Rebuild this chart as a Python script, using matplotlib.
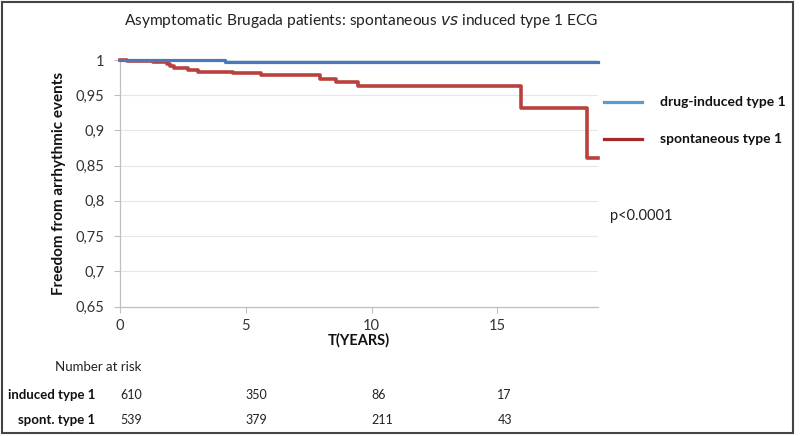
import matplotlib
matplotlib.use("Agg")
import matplotlib.pyplot as plt
from matplotlib.lines import Line2D
from matplotlib.patches import Rectangle
import matplotlib.transforms as mtransforms

plt.rcParams['font.family'] = ['Lato', 'DejaVu Sans']

# ---- data ----
title = "Asymptomatic Brugada patients: spontaneous $\\it{vs}$ induced type 1 ECG"
induced_t = [0, 4.17, 19.0]
induced_s = [1.0, 0.9976, 0.9976]
spont_t = [0, 0.27, 1.32, 1.85, 2.0, 2.15, 2.31, 2.71, 3.1, 4.5, 5.62, 7.94, 8.6, 9.46, 15.94, 18.55, 19.0]
spont_s = [1.0, 0.999, 0.9967, 0.994, 0.991, 0.989, 0.988, 0.9857, 0.983, 0.981, 0.978, 0.973,
           0.9686, 0.963, 0.932, 0.861, 0.861]
risk_times = [0, 5, 10, 15]
risk_induced = [610, 350, 86, 17]
risk_spont = [539, 379, 211, 43]
yticks = [0.65, 0.7, 0.75, 0.8, 0.85, 0.9, 0.95, 1.0]
ytick_labels = ["0,65", "0,7", "0,75", "0,8", "0,85", "0,9", "0,95", "1"]
xticks = [0, 5, 10, 15]
legend_labels = ["drug-induced type 1", "spontaneous type 1"]
p_text = "p<0.0001"

W, H = 800, 436
fig = plt.figure(figsize=(W / 100, H / 100), dpi=100)

def fx(x):
    return x / W

def fy(y):
    return 1 - y / H

left, right, top, bottom = 120, 598, 60, 306.5
ax = fig.add_axes([fx(left), fy(bottom), (right - left) / W, (bottom - top) / H])

blue_line = '#4a78c0'
red_line = '#b9403c'
ax.step(induced_t, induced_s, where='post', color=blue_line, lw=2.3, clip_on=False, zorder=4)
ax.step(spont_t, spont_s, where='post', color=red_line, lw=2.6, clip_on=False, zorder=3)

ax.set_xlim(0, 19)
ax.set_ylim(0.65, 1.0)
ax.set_yticks(yticks)
ax.set_yticklabels(ytick_labels)
ax.set_xticks(xticks)
ax.grid(axis='y', color='#e6e6e6', lw=0.8)
ax.set_axisbelow(True)
for s in ['top', 'right']:
    ax.spines[s].set_visible(False)
for s in ['left', 'bottom']:
    ax.spines[s].set_color('#bfbfbf')
    ax.spines[s].set_linewidth(0.9)
ax.tick_params(axis='both', colors='#bfbfbf', labelcolor='#333333', labelsize=10.5, length=4, width=0.8)
ax.tick_params(axis='y', pad=7)
ax.tick_params(axis='x', pad=5)

ax.set_ylabel("Freedom from arrhythmic events", fontsize=11, fontweight='bold', color='#111111', labelpad=7)
fig.text(fx(359), fy(340), "T(YEARS)", ha='center', va='center', fontsize=10.5, fontweight='bold', color='#111111')

fig.text(fx(361), fy(21), title, ha='center', va='center', fontsize=11.2, color='#222222')

# legend
fig.add_artist(Line2D([fx(604), fx(642)], [fy(102), fy(102)], color='#5b9bd5', lw=2.3))
fig.add_artist(Line2D([fx(604), fx(642)], [fy(139), fy(139)], color='#a52a24', lw=2.3))
fig.text(fx(660), fy(102), legend_labels[0], ha='left', va='center', fontsize=10, fontweight='bold', color='#111111')
fig.text(fx(660), fy(139), legend_labels[1], ha='left', va='center', fontsize=10, fontweight='bold', color='#111111')
fig.text(fx(610), fy(216), p_text, ha='left', va='center', fontsize=10.5, color='#222222')

# number at risk table
fig.text(fx(55), fy(367), "Number at risk", ha='left', va='center', fontsize=9.5, color='#222222')
fig.text(fx(95), fy(395), "induced type 1", ha='right', va='center', fontsize=9.5, fontweight='bold', color='#111111')
fig.text(fx(95), fy(420), "spont. type 1", ha='right', va='center', fontsize=9.5, fontweight='bold', color='#111111')
trans = mtransforms.blended_transform_factory(ax.transData, fig.transFigure)
for t, a, b in zip(risk_times, risk_induced, risk_spont):
    fig.text(t, fy(395), str(a), transform=trans, ha='left', va='center', fontsize=9, color='#222222')
    fig.text(t, fy(420), str(b), transform=trans, ha='left', va='center', fontsize=9, color='#222222')

# outer frame
fig.add_artist(Rectangle((fx(2), fy(433)), (793 - 2) / W, (433 - 2) / H, transform=fig.transFigure,
                         fill=False, edgecolor='#444444', lw=1.5))

fig.savefig("out.png", dpi=100)
